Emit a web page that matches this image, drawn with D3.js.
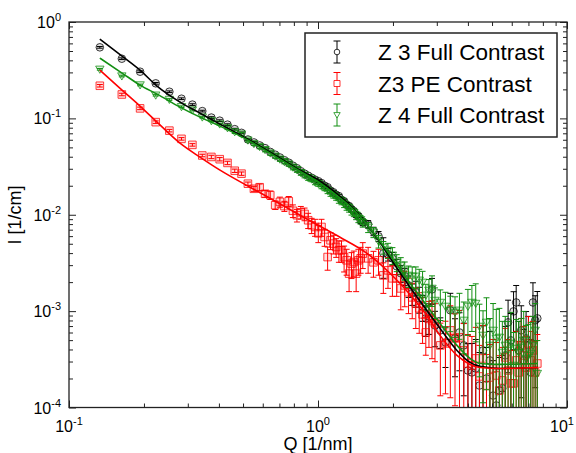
<!DOCTYPE html>
<html>
<head>
<meta charset="utf-8">
<script src="https://cdn.jsdelivr.net/npm/d3@7"></script>
<style>
body { margin: 0; background: #fff; }
svg { display: block; font-family: "Liberation Sans", Arial, sans-serif; }
</style>
</head>
<body>
<svg width="576" height="453"></svg>
<script>
// Q grid [1/nm], shared by the three measurements
var Q = [0.133, 0.163, 0.193, 0.223, 0.253, 0.283, 0.313, 0.343, 0.373, 0.403,
         0.433, 0.463, 0.493, 0.523, 0.553, 0.583, 0.613, 0.643, 0.673, 0.703,
         0.733, 0.763, 0.793, 0.823, 0.853, 0.883, 0.913, 0.943, 0.973, 1.003,
         1.033, 1.063, 1.093, 1.123, 1.153, 1.183, 1.213, 1.243, 1.273, 1.303,
         1.333, 1.363, 1.393, 1.423, 1.453, 1.483, 1.513,
         1.59, 1.67, 1.75, 1.83, 1.91, 1.99, 2.07, 2.15, 2.23, 2.31, 2.39, 2.47, 2.55,
         2.63, 2.71, 2.79, 2.87, 2.95,
         3.1, 3.25, 3.4, 3.55, 3.7, 3.85, 4.0, 4.15, 4.3, 4.45, 4.6, 4.75, 4.9, 5.05,
         5.2, 5.35, 5.5, 5.65, 5.8, 5.95, 6.1, 6.25, 6.4, 6.55, 6.7, 6.85, 7.0, 7.15,
         7.3, 7.45, 7.6];

// Z 3 Full Contrast  I [1/cm] and relative error
var z3Full = [0.546, 0.416, 0.305, 0.231, 0.189, 0.160, 0.139, 0.119, 0.102, 0.0947,
              0.0861, 0.0773, 0.0708, 0.0604, 0.0563, 0.0524, 0.0491, 0.0449, 0.0420, 0.0393,
              0.0368, 0.0347, 0.0323, 0.0304, 0.0283, 0.0267, 0.0254, 0.0242, 0.0231, 0.0223,
              0.0213, 0.0200, 0.0193, 0.0178, 0.0171, 0.0161, 0.0156, 0.0143, 0.0138, 0.0127,
              0.0123, 0.0114, 0.0109, 0.0100, 0.00965, 0.00877, 0.00836,
              0.00797, 0.00674, 0.00598, 0.00398, 0.00389, 0.00353, 0.00292, 0.00247, 0.00230,
              0.00185, 0.00153, 0.00157, 0.00136, 0.00112, 0.000841, 0.000882, 0.00168, 0.000711,
              0.000631, 0.000473, 0.00102, 0.000521, 0.000601, 0.000441, 0.000242, 0.000231,
              0.000254, 0.000169, 0.000391, 0.000200, 0.000308, 0.000133, 0.000105, 0.000150,
              0.000158, 0.000347, 0.000764, 0.000497, 0.000994, 0.00123, 0.000391, 0.000631,
              0.000308, 0.000521, 0.000441, 0.000231, 0.00123, 0.000802, 0.000841];
var z3FullErr = [0.02, 0.02, 0.02, 0.02, 0.02, 0.02, 0.02, 0.02, 0.02, 0.02,
                 0.02, 0.02, 0.02, 0.02, 0.02, 0.02, 0.02, 0.02, 0.02, 0.02,
                 0.03, 0.03, 0.03, 0.03, 0.03, 0.03, 0.03, 0.03, 0.03, 0.03,
                 0.03, 0.03, 0.03, 0.04, 0.04, 0.04, 0.04, 0.05, 0.05, 0.05,
                 0.05, 0.06, 0.06, 0.06, 0.07, 0.07, 0.08,
                 0.09, 0.1, 0.12, 0.45, 0.15, 0.15, 0.18, 0.2, 0.2, 0.25, 0.25, 0.3, 0.3,
                 0.3, 0.35, 0.35, 0.3, 0.4,
                 0.35, 0.45, 0.5, 0.6, 0.6, 0.7, 0.9, 1.0, 1.0, 1.2, 0.8, 1.1, 1.0, 1.3,
                 1.4, 1.2, 1.2, 1.0, 0.7, 0.9, 0.6, 0.5, 1.0, 0.8, 1.1, 0.9, 1.0, 1.2,
                 0.6, 0.8, 0.9];

// Z3 PE Contrast
var z3PE = [0.218, 0.177, 0.127, 0.0914, 0.0746, 0.0613, 0.0531, 0.0412, 0.0398, 0.0377,
            0.0345, 0.0286, 0.0267, 0.0210, 0.0186, 0.0193, 0.0165, 0.0160, 0.0126, 0.0136,
            0.0123, 0.0138, 0.0110, 0.00989, 0.0106, 0.0102, 0.00877, 0.00778, 0.00747, 0.00642,
            0.00747, 0.00588, 0.00364, 0.00543, 0.00502, 0.00463, 0.00428, 0.00428, 0.00364,
            0.00337, 0.00245, 0.00311, 0.00323, 0.00245, 0.00337, 0.00353, 0.00395,
            0.00353, 0.00321, 0.00337, 0.00235, 0.00265, 0.00219, 0.00219, 0.00172, 0.00185,
            0.00157, 0.00139, 0.00120, 0.00107, 0.000925, 0.000601, 0.000841, 0.000802, 0.000746,
            0.000441, 0.000462, 0.000631, 0.000521, 0.000534, 0.000391, 0.000286, 0.000273,
            0.000323, 0.000210, 0.000323, 0.000169, 0.000205, 0.000254, 0.000215, 0.000150,
            0.000191, 0.000331, 0.000242, 0.000178, 0.000178, 0.000308, 0.000231, 0.000441,
            0.000347, 0.000260, 0.000462, 0.000308, 0.000391, 0.000231, 0.000286];
var z3PEErr = [0.03, 0.03, 0.03, 0.03, 0.03, 0.03, 0.03, 0.03, 0.04, 0.04,
               0.04, 0.04, 0.04, 0.04, 0.06, 0.08, 0.08, 0.1, 0.1, 0.12,
               0.12, 0.12, 0.15, 0.15, 0.15, 0.15, 0.18, 0.18, 0.2, 0.2,
               0.2, 0.2, 0.27, 0.2, 0.22, 0.22, 0.25, 0.25, 0.3, 0.3,
               0.35, 0.3, 0.3, 0.35, 0.3, 0.3, 0.3,
               0.3, 0.3, 0.3, 0.35, 0.35, 0.35, 0.35, 0.4, 0.4, 0.4, 0.4, 0.45, 0.45,
               0.5, 0.42, 0.5, 0.6, 0.6,
               0.7, 0.7, 0.8, 0.8, 0.9, 0.9, 1.0, 1.0, 1.1, 1.1, 1.2, 1.1, 1.2, 1.0,
               1.2, 1.3, 1.2, 1.0, 1.1, 1.2, 1.2, 1.0, 1.1, 0.9, 1.0, 1.1, 0.9, 1.0,
               1.0, 1.1, 1.0];

// Z 4 Full Contrast
var z4Full = [0.323, 0.275, 0.222, 0.174, 0.157, 0.132, 0.122, 0.103, 0.0943, 0.0872,
              0.0797, 0.0725, 0.0686, 0.0594, 0.0546, 0.0509, 0.0473, 0.0436, 0.0405, 0.0377,
              0.0355, 0.0335, 0.0311, 0.0293, 0.0273, 0.0257, 0.0242, 0.0234, 0.0218, 0.0210,
              0.0198, 0.0189, 0.0178, 0.0167, 0.0160, 0.0152, 0.0143, 0.0138, 0.0129, 0.0121,
              0.0117, 0.0109, 0.0105, 0.00988, 0.00920, 0.00887, 0.00826,
              0.00742, 0.00658, 0.00531, 0.00459, 0.00428, 0.00380, 0.00321, 0.00299, 0.00265,
              0.00235, 0.00230, 0.00230, 0.00209, 0.00199, 0.00146, 0.00164, 0.00172, 0.00129,
              0.00123, 0.00112, 0.00102, 0.000971, 0.00102, 0.000802, 0.00112, 0.00123, 0.00120,
              0.000694, 0.000560, 0.000764, 0.000441, 0.000631, 0.000521, 0.000534, 0.000373,
              0.000441, 0.000391, 0.000462, 0.000273, 0.000410, 0.000373, 0.000420, 0.000497,
              0.000323, 0.000347, 0.000364, 0.000441, 0.000631, 0.000225];
var z4FullErr = [0.02, 0.02, 0.02, 0.02, 0.02, 0.02, 0.02, 0.02, 0.02, 0.02,
                 0.04, 0.04, 0.04, 0.04, 0.04, 0.05, 0.05, 0.05, 0.05, 0.05,
                 0.05, 0.05, 0.06, 0.06, 0.06, 0.06, 0.06, 0.06, 0.06, 0.06,
                 0.06, 0.06, 0.07, 0.07, 0.07, 0.07, 0.08, 0.08, 0.08, 0.08,
                 0.09, 0.09, 0.09, 0.1, 0.1, 0.1, 0.1,
                 0.12, 0.12, 0.15, 0.15, 0.18, 0.2, 0.2, 0.2, 0.22, 0.25, 0.25, 0.25, 0.3,
                 0.3, 0.3, 0.3, 0.35, 0.35,
                 0.35, 0.4, 0.4, 0.45, 0.5, 0.55, 0.5, 0.5, 0.6, 0.7, 0.8, 0.8, 0.9, 0.9,
                 1.0, 1.0, 1.1, 1.0, 1.0, 1.1, 1.2, 1.0, 1.1, 1.0, 1.0, 1.2, 1.1, 1.1,
                 1.0, 0.9, 1.2];

// fitted model curves
var fitQ = [0.133, 0.1633, 0.1928, 0.2257, 0.2791, 0.3358, 0.4041, 0.5235, 0.7037, 0.8467,
            0.9908, 1.170, 1.344, 1.545, 1.774, 2.001, 2.342, 2.641, 3.090, 3.615,
            4.077, 4.473, 5.383, 7.647];
var fitZ3Full = [0.666, 0.443, 0.317, 0.216, 0.1475, 0.1134, 0.0871, 0.0609, 0.0386, 0.0290,
                 0.0234, 0.01713, 0.01256, 0.00835, 0.00518, 0.00321, 0.00177, 0.00115, 0.000662,
                 0.000391, 0.000294, 0.000267, 0.000254, 0.000260];
var fitZ4Full = [0.4226, 0.2953, 0.2215, 0.1786, 0.1309, 0.1030, 0.0831, 0.0594, 0.0377, 0.0283,
                 0.0223, 0.01633, 0.01225, 0.00835, 0.00530, 0.00345, 0.00194, 0.00129, 0.000746,
                 0.000441, 0.000323, 0.000286, 0.000280, 0.000286];
var fitQPE = [0.133, 0.1633, 0.1928, 0.2257, 0.2791, 0.3358, 0.4041, 0.5332, 0.6417, 0.8467,
              1.019, 1.226, 1.573, 1.946, 2.342, 2.641, 3.090, 3.615, 4.077, 4.473, 5.383, 7.647];
var fitZ3PE = [0.317, 0.1965, 0.134, 0.0914, 0.0553, 0.0396, 0.0290, 0.0193, 0.01484, 0.00989,
               0.00760, 0.00584, 0.00398, 0.00247, 0.00149, 0.00102, 0.000560, 0.000347,
               0.000280, 0.000260, 0.000254, 0.000260];

var seriesNames = ["Z 3 Full Contrast", "Z3 PE Contrast", "Z 4 Full Contrast"];

var svg = d3.select("svg");
var plotLeft = 69, plotRight = 567, plotTop = 22, plotBottom = 407.5;

var x = d3.scaleLog().domain([0.1, 10]).range([plotLeft, plotRight]);
var y = d3.scaleLog().domain([1e-4, 1]).range([plotBottom, plotTop]);

var black = "#000000", red = "#ff0000", green = "#138f13";

svg.append("clipPath").attr("id", "plotclip")
  .append("rect")
    .attr("x", plotLeft).attr("y", plotTop)
    .attr("width", plotRight - plotLeft).attr("height", plotBottom - plotTop);

var plot = svg.append("g").attr("clip-path", "url(#plotclip)");

function isMajor(v) {
  var l = Math.log10(v);
  return Math.abs(l - Math.round(l)) < 1e-6;
}

function drawSeries(vals, errs, color, shape) {
  var pts = Q.map(function(q, i) { return {q: q, v: vals[i], e: errs[i]}; });
  var g = plot.append("g");
  var eb = g.selectAll("g").data(pts).enter().append("g")
      .attr("stroke", color).attr("stroke-width", 1).attr("fill", "none");
  eb.append("line")
      .attr("x1", function(d) { return x(d.q); })
      .attr("x2", function(d) { return x(d.q); })
      .attr("y1", function(d) { return y(d.v * (1 + d.e)); })
      .attr("y2", function(d) { return d.e < 1 ? y(d.v * (1 - d.e)) : plotBottom + 10; });
  eb.append("line")
      .attr("x1", function(d) { return x(d.q) - 3; })
      .attr("x2", function(d) { return x(d.q) + 3; })
      .attr("y1", function(d) { return y(d.v * (1 + d.e)); })
      .attr("y2", function(d) { return y(d.v * (1 + d.e)); });
  eb.filter(function(d) { return d.e < 1; }).append("line")
      .attr("x1", function(d) { return x(d.q) - 3; })
      .attr("x2", function(d) { return x(d.q) + 3; })
      .attr("y1", function(d) { return y(d.v * (1 - d.e)); })
      .attr("y2", function(d) { return y(d.v * (1 - d.e)); });
  eb.append("path")
      .attr("transform", function(d) { return "translate(" + x(d.q) + "," + y(d.v) + ")"; })
      .attr("d", shape)
      .attr("stroke-opacity", 0.75)
      .attr("fill", color).attr("fill-opacity", 0.12);
}

var circleShape = "M3.8,0A3.8,3.8 0 1,1 -3.8,0A3.8,3.8 0 1,1 3.8,0Z";
var squareShape = "M-3.8,-3.8H3.8V3.8H-3.8Z";
var triShape = "M-4.2,-3.2H4.2L0,4Z";

drawSeries(z3Full, z3FullErr, black, circleShape);
drawSeries(z3PE, z3PEErr, red, squareShape);
drawSeries(z4Full, z4FullErr, green, triShape);

function drawFit(qs, vals, color) {
  var line = d3.line()
      .x(function(d, i) { return x(qs[i]); })
      .y(function(d) { return y(d); })
      .curve(d3.curveMonotoneX);
  plot.append("path")
      .attr("d", line(vals))
      .attr("fill", "none")
      .attr("stroke", color)
      .attr("stroke-width", 1.6);
}

drawFit(fitQ, fitZ3Full, black);
drawFit(fitQ, fitZ4Full, green);
drawFit(fitQPE, fitZ3PE, red);

// ticks on all four sides, pointing inwards
var xMajor = x.ticks().filter(isMajor), xMinor = x.ticks().filter(function(v) { return !isMajor(v); });
var yMajor = y.ticks().filter(isMajor), yMinor = y.ticks().filter(function(v) { return !isMajor(v); });

function tickAxis(axis, tr, vals, len) {
  var g = svg.append("g")
      .attr("transform", tr)
      .call(axis.tickValues(vals).tickSize(-len).tickFormat(""));
  g.select(".domain").remove();
  g.selectAll("line").attr("stroke", "#222").attr("stroke-width", 1);
}
tickAxis(d3.axisBottom(x), "translate(0," + plotBottom + ")", xMajor, 7);
tickAxis(d3.axisBottom(x), "translate(0," + plotBottom + ")", xMinor, 4);
tickAxis(d3.axisTop(x), "translate(0," + plotTop + ")", xMajor, 7);
tickAxis(d3.axisTop(x), "translate(0," + plotTop + ")", xMinor, 4);
tickAxis(d3.axisLeft(y), "translate(" + plotLeft + ",0)", yMajor, 7);
tickAxis(d3.axisLeft(y), "translate(" + plotLeft + ",0)", yMinor, 4);
tickAxis(d3.axisRight(y), "translate(" + plotRight + ",0)", yMajor, 7);
tickAxis(d3.axisRight(y), "translate(" + plotRight + ",0)", yMinor, 4);

svg.append("rect")
    .attr("x", plotLeft).attr("y", plotTop)
    .attr("width", plotRight - plotLeft).attr("height", plotBottom - plotTop)
    .attr("fill", "none").attr("stroke", "#222").attr("stroke-width", 1.3);

// tick labels as 10^n
xMajor.forEach(function(v) {
  var t = svg.append("text")
      .attr("x", Math.min(x(v), 562)).attr("y", plotBottom + 24)
      .attr("text-anchor", "middle")
      .attr("font-size", 16).attr("fill", "#000");
  t.append("tspan").text("10");
  t.append("tspan").attr("dy", -7).attr("font-size", 11).text(Math.round(Math.log10(v)));
});
yMajor.forEach(function(v) {
  var t = svg.append("text")
      .attr("x", plotLeft - 8).attr("y", y(v) + 6)
      .attr("text-anchor", "end")
      .attr("font-size", 16).attr("fill", "#000");
  t.append("tspan").text("10");
  t.append("tspan").attr("dy", -7).attr("font-size", 11).text(Math.round(Math.log10(v)));
});

svg.append("text")
    .attr("x", (plotLeft + plotRight) / 2).attr("y", 450)
    .attr("text-anchor", "middle")
    .attr("font-size", 18).text("Q [1/nm]");

svg.append("text")
    .attr("transform", "translate(21,215) rotate(-90)")
    .attr("text-anchor", "middle")
    .attr("font-size", 18).text("I [1/cm]");

// legend
var legend = svg.append("g");
legend.append("rect")
    .attr("x", 305).attr("y", 33).attr("width", 252).attr("height", 104)
    .attr("fill", "#fff").attr("stroke", "#222").attr("stroke-width", 1.5);

var legendItems = [
  {name: seriesNames[0], color: black, shape: "M2.8,0A2.8,2.8 0 1,1 -2.8,0A2.8,2.8 0 1,1 2.8,0Z"},
  {name: seriesNames[1], color: red, shape: "M-3,-3H3V3H-3Z"},
  {name: seriesNames[2], color: green, shape: "M-3.2,-2.4H3.2L0,3Z"}
];
var li = legend.selectAll("g.item").data(legendItems).enter().append("g")
    .attr("transform", function(d, i) { return "translate(337," + (52 + i * 31.5) + ")"; });
li.append("line").attr("y1", -11).attr("y2", 11)
    .attr("stroke", function(d) { return d.color; });
li.append("line").attr("x1", -3.5).attr("x2", 3.5).attr("y1", -11).attr("y2", -11)
    .attr("stroke", function(d) { return d.color; });
li.append("line").attr("x1", -3.5).attr("x2", 3.5).attr("y1", 11).attr("y2", 11)
    .attr("stroke", function(d) { return d.color; });
li.append("path").attr("d", function(d) { return d.shape; })
    .attr("fill", "#fff")
    .attr("stroke", function(d) { return d.color; }).attr("stroke-opacity", 0.8);
li.append("text")
    .attr("x", 41).attr("y", 8)
    .attr("font-size", 22.5).attr("fill", "#000")
    .text(function(d) { return d.name; });
</script>
</body>
</html>
